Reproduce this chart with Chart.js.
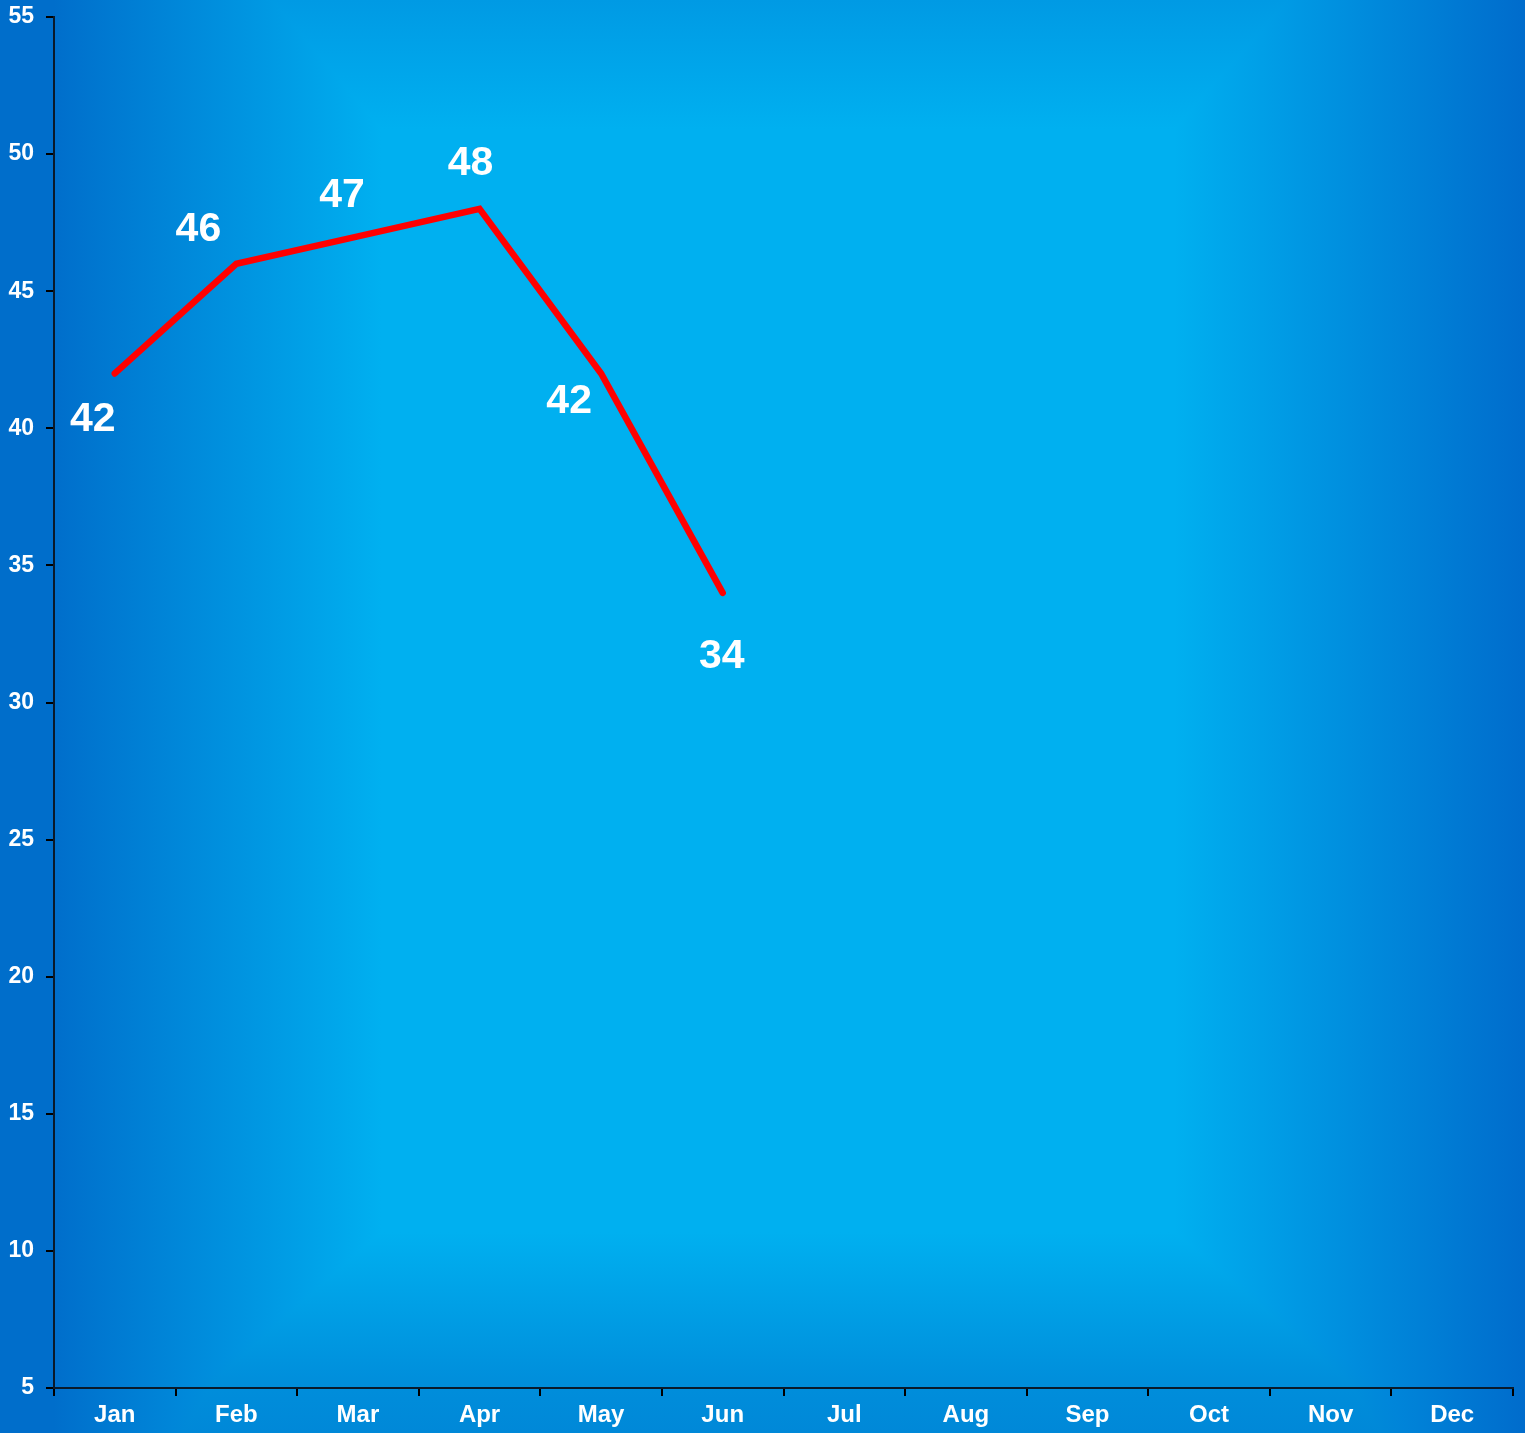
<!DOCTYPE html>
<html>
<head>
<meta charset="utf-8">
<script src="https://cdn.jsdelivr.net/npm/chart.js@4"></script>
<style>
  html, body { margin: 0; padding: 0; background: #00b0f0; }
  #wrap { width: 1525px; height: 1433px; }
</style>
</head>
<body>
<div id="wrap"><canvas id="chart" width="1525" height="1433"></canvas></div>
<script>
// chart data
const months = ['Jan', 'Feb', 'Mar', 'Apr', 'May', 'Jun', 'Jul', 'Aug', 'Sep', 'Oct', 'Nov', 'Dec'];
const values = [42, 46, 47, 48, 42, 34, null, null, null, null, null, null];
const yMin = 5;
const yMax = 55;
const yStep = 5;

// where each value label sits relative to its point
const labelOffsets = [[-22, 46], [-38, -34], [-16, -41], [-9, -45], [-32, 28], [-1, 64]];

// Rectangular blue gradient behind everything
const backgroundPlugin = {
    id: 'bg',
    beforeDraw(chart) {
        const ctx = chart.ctx;
        const w = chart.width, h = chart.height;
        ctx.save();
        const hg = ctx.createLinearGradient(0, 0, w, 0);
        hg.addColorStop(0, '#006ecb');
        hg.addColorStop(0.035, '#006ecb');
        hg.addColorStop(0.25, '#00b0f0');
        hg.addColorStop(0.77, '#00b0f0');
        hg.addColorStop(1, '#006ccc');
        ctx.fillStyle = hg;
        ctx.fillRect(0, 0, w, h);
        ctx.globalCompositeOperation = 'darken';
        const vg = ctx.createLinearGradient(0, 0, 0, h);
        vg.addColorStop(0, '#009ae4');
        vg.addColorStop(0.09, '#00b0f0');
        vg.addColorStop(0.86, '#00b0f0');
        vg.addColorStop(0.965, '#008edb');
        vg.addColorStop(1, '#0088d8');
        ctx.fillStyle = vg;
        ctx.fillRect(0, 0, w, h);
        ctx.restore();
    }
};

// Value labels next to the points
const valueLabelPlugin = {
    id: 'valueLabels',
    afterDatasetsDraw(chart) {
        const ctx = chart.ctx;
        const meta = chart.getDatasetMeta(0);
        ctx.save();
        ctx.font = 'bold 41px "Liberation Sans", Arial, sans-serif';
        ctx.fillStyle = '#ffffff';
        ctx.textAlign = 'center';
        ctx.textBaseline = 'middle';
        meta.data.forEach((pt, i) => {
            const v = values[i];
            if (v === null || v === undefined) return;
            const off = labelOffsets[i] || [0, -40];
            ctx.fillText(String(v), pt.x + off[0], pt.y + off[1]);
        });
        ctx.restore();
    }
};

new Chart(document.getElementById('chart'), {
    type: 'line',
    data: {
        labels: months,
        datasets: [{
            data: values,
            borderColor: '#ff0000',
            borderWidth: 6.5,
            borderCapStyle: 'round',
            borderJoinStyle: 'miter',
            pointRadius: 0,
            pointHoverRadius: 0,
            tension: 0,
            fill: false
        }]
    },
    options: {
        responsive: false,
        animation: false,
        events: [],
        layout: {
            padding: { top: 17, right: 12, left: 0, bottom: 0 }
        },
        plugins: {
            legend: { display: false },
            tooltip: { enabled: false }
        },
        scales: {
            x: {
                offset: true,
                grid: {
                    offset: true,
                    drawOnChartArea: false,
                    color: '#000000',
                    tickLength: 8,
                    lineWidth: 2
                },
                border: { color: '#0a1a2a', width: 2 },
                ticks: {
                    color: '#ffffff',
                    padding: 5,
                    maxRotation: 0,
                    font: { family: '"Liberation Sans", Arial, sans-serif', size: 24, weight: 'bold' }
                },
                afterFit(scale) { scale.height = 45; }
            },
            y: {
                min: yMin,
                max: yMax,
                grid: {
                    drawOnChartArea: false,
                    color: '#000000',
                    tickLength: 8,
                    lineWidth: 2
                },
                border: { color: '#0a1a2a', width: 2 },
                ticks: {
                    stepSize: yStep,
                    color: '#ffffff',
                    padding: 12,
                    font: { family: '"Liberation Sans", Arial, sans-serif', size: 23, weight: 'bold' }
                },
                afterFit(scale) {
                    scale.width = 54;
                    scale.paddingTop = 0;
                    scale.paddingBottom = 0;
                }
            }
        }
    },
    plugins: [backgroundPlugin, valueLabelPlugin]
});
</script>
</body>
</html>
